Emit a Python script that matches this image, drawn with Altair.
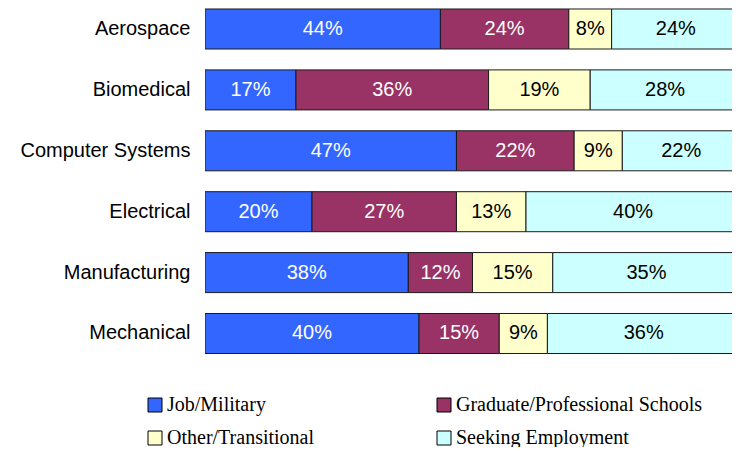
import altair as alt
import pandas as pd

categories = ["Aerospace", "Biomedical", "Computer Systems", "Electrical", "Manufacturing", "Mechanical"]
series = ["Job/Military", "Graduate/Professional Schools", "Other/Transitional", "Seeking Employment"]
job = [44, 17, 47, 20, 38, 40]
grad = [24, 36, 22, 27, 12, 15]
other = [8, 19, 9, 13, 15, 9]
seeking = [24, 28, 22, 40, 35, 36]
colors = ["#3366FF", "#993366", "#FFFFCC", "#CCFFFF"]

# legend fills column by column: order so that rows read Job | Graduate, Other | Seeking
legend_order = [series[0], series[2], series[1], series[3]]
legend_colors = [colors[0], colors[2], colors[1], colors[3]]

rows = []
for i, c in enumerate(categories):
    for j, (s, vals) in enumerate(zip(series, [job, grad, other, seeking])):
        rows.append({"category": c, "series": s, "order": j, "value": vals[i]})
df = pd.DataFrame(rows)

base = alt.Chart(df).transform_stack(
    stack="value", groupby=["category"], as_=["x0", "x1"],
    sort=[alt.SortField("order", order="ascending")]
).transform_calculate(
    mid="(datum.x0 + datum.x1) / 2",
    label="datum.value + '%'"
)

xscale = alt.Scale(domain=[0, 98.5], nice=False, zero=True)
yscale = alt.Scale(paddingInner=0.343, paddingOuter=0.0164)

y = alt.Y("category:N", sort=categories, scale=yscale,
          axis=alt.Axis(title=None, ticks=False, domain=False, grid=False,
                        labelFont="Liberation Sans", labelFontSize=20,
                        labelColor="black", labelPadding=15, labelLimit=0))

bars = base.mark_bar(stroke="#1a1a1a", strokeWidth=1, clip=True).encode(
    x=alt.X("x0:Q", scale=xscale, axis=None),
    x2="x1:Q",
    y=y,
    color=alt.Color("series:N", scale=alt.Scale(domain=legend_order, range=legend_colors),
                    legend=alt.Legend(title=None, orient="none", legendX=-60, legendY=387,
                                      columns=2, symbolType="square", symbolSize=196,
                                      symbolStrokeColor="black", symbolStrokeWidth=1,
                                      labelFont="Liberation Serif", labelFontSize=20,
                                      labelColor="black", labelOffset=2,
                                      columnPadding=119, rowPadding=13, labelLimit=0)),
)

text = base.mark_text(font="Liberation Sans", fontSize=20, clip=True).encode(
    x=alt.X("mid:Q", scale=xscale, axis=None),
    y=alt.Y("category:N", sort=categories, scale=yscale),
    text="label:N",
    color=alt.condition("datum.order < 2", alt.value("white"), alt.value("black")),
)

chart = alt.layer(bars, text).properties(
    width=527, height=346.5,
    autosize=alt.AutoSizeParams(type="none"),
    padding={"left": 197, "top": 0, "right": 0, "bottom": 92},
).configure_view(strokeWidth=0)

chart.save("out.html", embed_options={"renderer": "svg", "actions": False})
